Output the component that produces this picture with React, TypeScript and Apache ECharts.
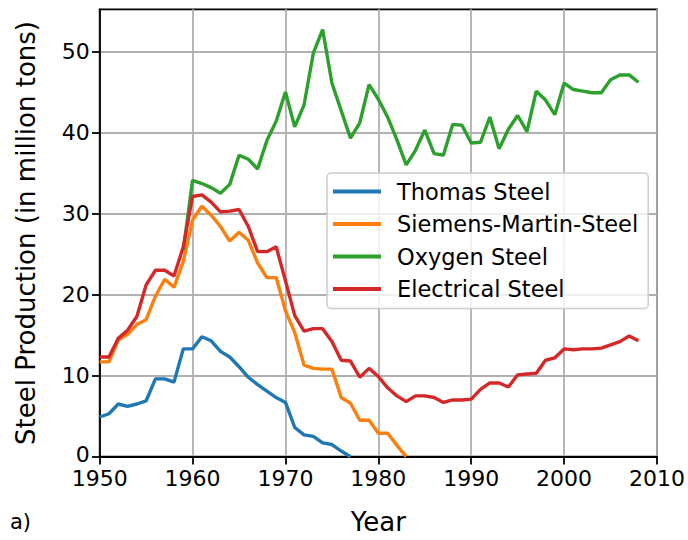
import React, { useEffect, useRef } from "react";
import * as echarts from "echarts";

const years: number[] = [];
for (let y = 1950; y <= 2008; y++) years.push(y);

const thomas: (number | null)[] = [
  4.9, 5.3, 6.5, 6.2, 6.5, 6.9, 9.6, 9.6, 9.2, 13.3,
  13.3, 14.8, 14.3, 13.0, 12.3, 11.1, 9.8, 8.9, 8.1, 7.3,
  6.7, 3.6, 2.7, 2.5, 1.7, 1.5, 0.7, 0,
];

const siemens: (number | null)[] = [
  11.7, 11.7, 14.4, 15.1, 16.3, 16.9, 19.8, 21.9, 20.9, 24.1,
  29.2, 30.9, 29.8, 28.4, 26.6, 27.7, 26.7, 23.9, 22.1, 22.1,
  18.0, 15.3, 11.3, 10.9, 10.8, 10.8, 7.3, 6.6, 4.5, 4.5,
  2.9, 2.9, 1.4, 0,
];

const oxygen: (number | null)[] = [
  null, null, null, null, null, null, null, null, null, 25.5,
  34.1, 33.7, 33.2, 32.5, 33.6, 37.2, 36.7, 35.5, 39.0, 41.4,
  45.0, 40.7, 43.4, 49.8, 52.7, 46.1, 42.7, 39.3, 41.2, 45.9,
  44.1, 41.9, 39.1, 36.0, 37.8, 40.3, 37.4, 37.2, 41.0, 40.9,
  38.7, 38.8, 41.9, 38.0, 40.4, 42.1, 40.1, 45.1, 44.0, 42.2,
  46.1, 45.3, 45.1, 44.9, 44.9, 46.5, 47.1, 47.1, 46.2,
];

const electrical: (number | null)[] = [
  12.3, 12.3, 14.6, 15.6, 17.3, 21.2, 23.0, 23.0, 22.3, 25.9,
  32.1, 32.3, 31.4, 30.2, 30.3, 30.5, 28.4, 25.3, 25.3, 25.9,
  21.7, 17.4, 15.5, 15.8, 15.8, 14.2, 11.9, 11.8, 9.8, 10.9,
  9.9, 8.5, 7.5, 6.8, 7.5, 7.5, 7.3, 6.7, 7.0, 7.0,
  7.1, 8.3, 9.1, 9.1, 8.6, 10.1, 10.2, 10.3, 11.9, 12.2,
  13.3, 13.2, 13.3, 13.3, 13.4, 13.8, 14.2, 14.9, 14.3,
];

const seriesNames = ["Thomas Steel", "Siemens-Martin-Steel", "Oxygen Steel", "Electrical Steel"];
const seriesColors = ["#1f77b4", "#ff7f0e", "#2ca02c", "#d62728"];
const seriesData = [thomas, siemens, oxygen, electrical];

const xTicks = [1950, 1960, 1970, 1980, 1990, 2000, 2010];
const yTicks = [0, 10, 20, 30, 40, 50];

const FONT = "DejaVu Sans";

export default function App() {
  const ref = useRef<HTMLDivElement>(null);
  useEffect(() => {
    if (!ref.current) return;
    const chart = echarts.init(ref.current, undefined, { renderer: "svg" });
    const series = seriesData.map((arr, i) => ({
      name: seriesNames[i],
      type: "line",
      showSymbol: false,
      symbol: "none",
      connectNulls: false,
      lineStyle: { width: 3.4, color: seriesColors[i] },
      itemStyle: { color: seriesColors[i] },
      data: years.map((yr, j) => [yr, j < arr.length ? arr[j] : null]),
      z: 3 + i,
    }));
    chart.setOption({
      animation: false,
      backgroundColor: "#ffffff",
      textStyle: { fontFamily: FONT },
      grid: {
        left: 99.7,
        right: 28.5,
        top: 9.3,
        bottom: 83.3,
        show: true,
        borderColor: "#000000",
        borderWidth: 1.8,
        backgroundColor: "transparent",
      },
      legend: {
        orient: "vertical",
        left: 327,
        top: 173,
        padding: [7, 10, 8, 6],
        itemGap: 9.5,
        itemWidth: 48,
        itemHeight: 4,
        icon: "rect",
        backgroundColor: "rgba(255,255,255,0.8)",
        borderColor: "#cccccc",
        borderWidth: 1.5,
        borderRadius: 4,
        textStyle: {
          fontFamily: FONT,
          fontSize: 22.5,
          color: "#000000",
          lineHeight: 22,
          padding: [0, 0, 0, 11],
        },
        data: seriesNames,
      },
      xAxis: {
        type: "value",
        min: 1950,
        max: 2010,
        interval: 10,
        name: "Year",
        nameLocation: "middle",
        nameGap: 52,
        nameTextStyle: { fontFamily: FONT, fontSize: 26, color: "#000000" },
        axisLine: { show: true, lineStyle: { color: "#000000", width: 1.8 } },
        axisTick: { show: true, inside: false, length: 7.7, lineStyle: { color: "#000000", width: 1.8 }, customValues: xTicks },
        axisLabel: { fontFamily: FONT, fontSize: 22, color: "#000000", margin: 13, lineHeight: 17, customValues: xTicks, formatter: (v: number) => String(v) },
        splitLine: { show: true, lineStyle: { color: "#b0b0b0", width: 1.8 } },
      },
      yAxis: {
        type: "value",
        min: 0,
        max: 55.2,
        interval: 10,
        name: "Steel Production (in million tons)",
        nameLocation: "middle",
        nameGap: 61,
        nameRotate: 90,
        nameTextStyle: { fontFamily: FONT, fontSize: 26, color: "#000000" },
        axisLine: { show: true, lineStyle: { color: "#000000", width: 1.8 } },
        axisTick: { show: true, inside: false, length: 7.7, lineStyle: { color: "#000000", width: 1.8 }, customValues: yTicks },
        axisLabel: {
          fontFamily: FONT,
          fontSize: 22,
          color: "#000000",
          margin: 10,
          lineHeight: 14,
          customValues: yTicks,
          formatter: (v: number) => (v === 0 ? "{z|0}" : String(v)),
          rich: { z: { fontFamily: FONT, fontSize: 22, color: "#000000", lineHeight: 14, padding: [0, 0, 4, 0] } },
        },
        splitLine: { show: true, lineStyle: { color: "#b0b0b0", width: 1.8 } },
      },
      graphic: [
        {
          type: "text",
          left: 10,
          top: 511,
          style: { text: "a)", fontFamily: FONT, fontSize: 21, fill: "#000000" },
        },
      ],
      series,
    });
    return () => chart.dispose();
  }, []);
  return (
    <div
      ref={ref}
      style={{ position: "fixed", left: 0, top: 0, width: 688, height: 540, background: "#fff" }}
    />
  );
}
